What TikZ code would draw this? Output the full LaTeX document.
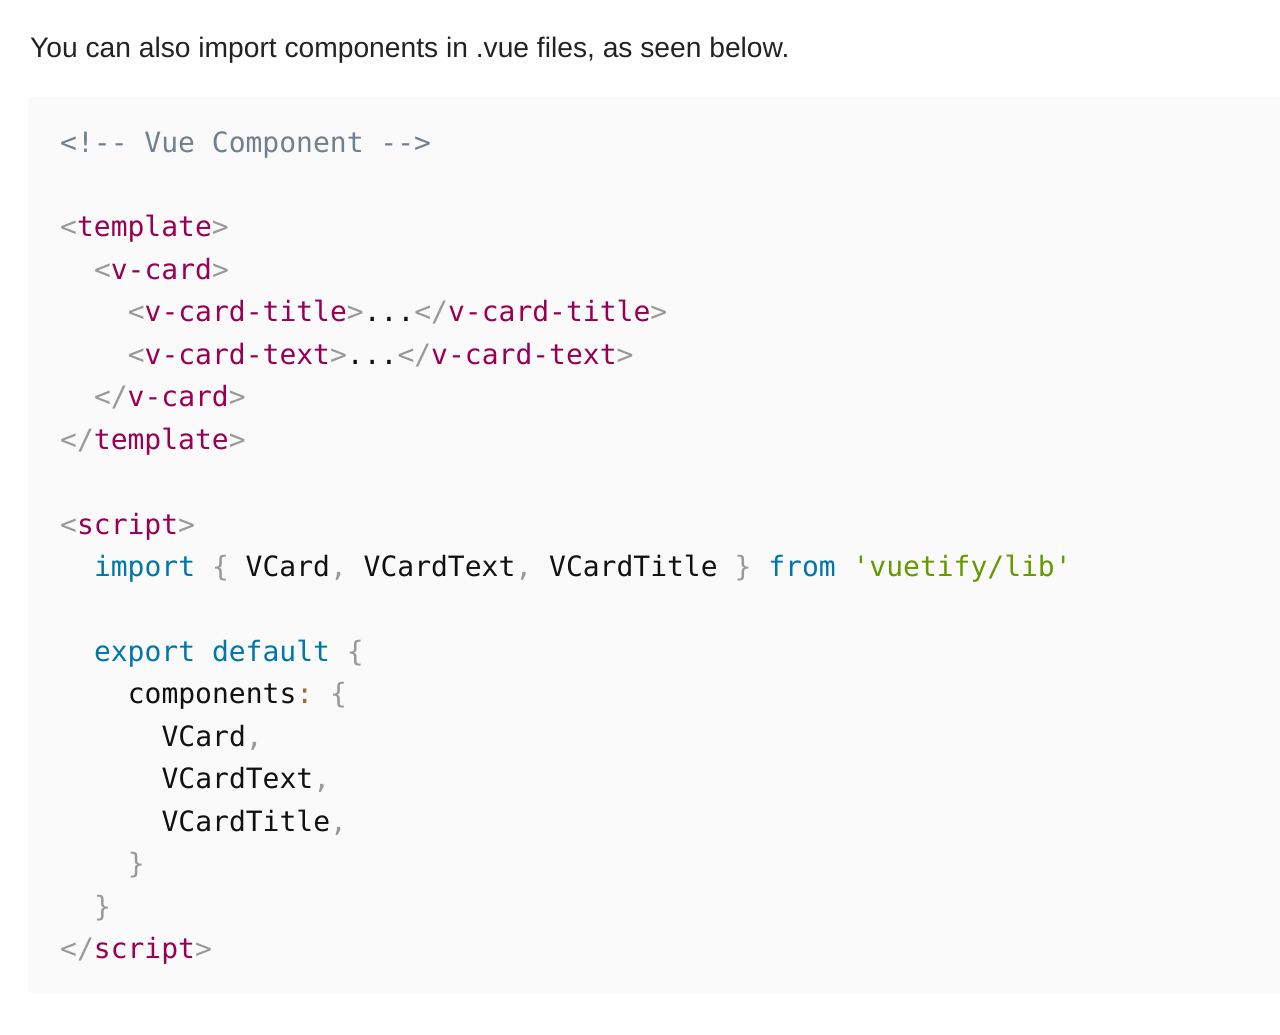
\documentclass[tikz,border=0pt]{standalone}
\usepackage{fontspec}
\setmainfont{Liberation Sans}
\setmonofont{DejaVu Sans Mono}
\definecolor{bgc}{HTML}{FAFAFA}
\definecolor{headc}{HTML}{222222}
\definecolor{plainc}{HTML}{111111}
\definecolor{tagc}{HTML}{990055}
\definecolor{puncc}{HTML}{999999}
\definecolor{kwc}{HTML}{0077AA}
\definecolor{strc}{HTML}{669900}
\definecolor{cmtc}{HTML}{708090}
\definecolor{oprc}{HTML}{9A6E3A}
\newcommand{\tg}[1]{\textcolor{tagc}{#1}}
\newcommand{\pn}[1]{\textcolor{puncc}{#1}}
\newcommand{\kw}[1]{\textcolor{kwc}{#1}}
\newcommand{\strg}[1]{\textcolor{strc}{#1}}
\newcommand{\cmt}[1]{\textcolor{cmtc}{#1}}
\newcommand{\opr}[1]{\textcolor{oprc}{#1}}
\begin{document}
\begin{tikzpicture}[x=1pt,y=-1pt,
  intro/.style={anchor=base west,inner sep=0pt,font=\fontsize{28.2}{30}\selectfont,text=headc},
  code/.style={anchor=base west,inner sep=0pt,font=\fontsize{28}{30}\ttfamily,text=plainc}]
  \useasboundingbox (0,0) rectangle (1280,1034);
  \fill[bgc,rounded corners=4pt] (28,97) rectangle (1300,993);
  \node[intro] (head) at (30,57) {You can also import components in .vue files, as seen below.};
  % template part
  \node[code] (comment) at (60,152) {\cmt{<!-- Vue Component -->}};
  \node[code] (tmplopen) at (60,236.9) {\pn{<}\tg{template}\pn{>}};
  \node[code] (card) at (93.8,279.4) {\pn{<}\tg{v-card}\pn{>}};
  \node[code] (ctitle) at (127.6,321.8) {\pn{<}\tg{v-card-title}\pn{>}...\pn{</}\tg{v-card-title}\pn{>}};
  \node[code] (ctext) at (127.6,364.3) {\pn{<}\tg{v-card-text}\pn{>}...\pn{</}\tg{v-card-text}\pn{>}};
  \node[code] (cardclose) at (93.8,406.7) {\pn{</}\tg{v-card}\pn{>}};
  \node[code] (tmplclose) at (60,449.2) {\pn{</}\tg{template}\pn{>}};
  % script part
  \node[code] (scriptopen) at (60,534.1) {\pn{<}\tg{script}\pn{>}};
  \node[code] (imp) at (93.8,576.5) {\kw{import} \pn{\{} VCard\pn{,} VCardText\pn{,} VCardTitle \pn{\}} \kw{from} \strg{'vuetify/lib'}};
  \node[code] (expdef) at (93.8,661.4) {\kw{export} \kw{default} \pn{\{}};
  \node[code] (comps) at (127.6,703.9) {components\opr{:} \pn{\{}};
  \node[code] (vcard) at (161.4,746.3) {VCard\pn{,}};
  \node[code] (vcardtext) at (161.4,788.8) {VCardText\pn{,}};
  \node[code] (vcardtitle) at (161.4,831.2) {VCardTitle\pn{,}};
  \node[code] (compsclose) at (127.6,873.7) {\pn{\}}};
  \node[code] (expclose) at (93.8,916.1) {\pn{\}}};
  \node[code] (scriptclose) at (60,958.6) {\pn{</}\tg{script}\pn{>}};
\end{tikzpicture}
\end{document}
